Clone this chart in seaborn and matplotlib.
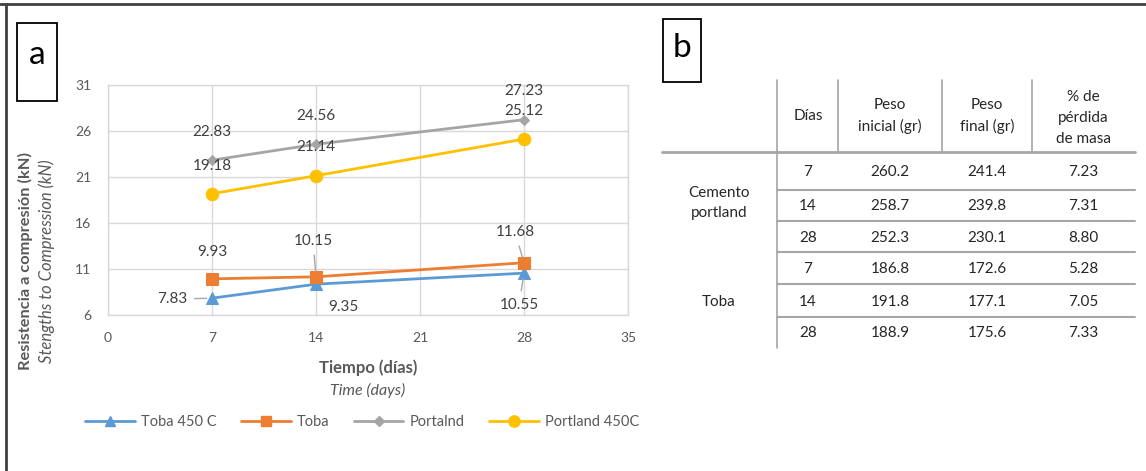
import matplotlib
matplotlib.use("Agg")
import matplotlib.pyplot as plt
import pandas as pd
import seaborn as sns
from matplotlib.lines import Line2D
from matplotlib.patches import Rectangle

# ---- compressive strength data (panel a) ----
dias = [7, 14, 28]
toba_450c = [7.83, 9.35, 10.55]
toba = [9.93, 10.15, 11.68]
portalnd = [22.83, 24.56, 27.23]
portland_450c = [19.18, 21.14, 25.12]
series_names = ["Toba 450 C", "Toba", "Portalnd", "Portland 450C"]
x_ticks = [0, 7, 14, 21, 28, 35]
y_ticks = [6, 11, 16, 21, 26, 31]

# ---- mass loss table (panel b) ----
grupos = ["Cemento\nportland", "Toba"]
tabla_dias = [7, 14, 28, 7, 14, 28]
peso_inicial = [260.2, 258.7, 252.3, 186.8, 191.8, 188.9]
peso_final = [241.4, 239.8, 230.1, 172.6, 177.1, 175.6]
perdida_masa = [7.23, 7.31, 8.80, 5.28, 7.05, 7.33]
encabezados = ["Días", "Peso\ninicial (gr)", "Peso\nfinal (gr)", "% de\npérdida\nde masa"]

sns.set_theme(style="white")
plt.rcParams["font.family"] = ["Lato", "DejaVu Sans"]

W, H, DPI = 1146, 471, 100
fig = plt.figure(figsize=(W / DPI, H / DPI), dpi=DPI)

def px_box(x0, y0, x1, y1):
    return [x0 / W, 1 - y1 / H, (x1 - x0) / W, (y1 - y0) / H]

ax = fig.add_axes(px_box(108, 85, 628, 315))

df = pd.DataFrame({
    "dia": dias * 4,
    "valor": toba_450c + toba + portalnd + portland_450c,
    "serie": [s for s in series_names for _ in dias],
})

colors = {"Toba 450 C": "#5B9BD5", "Toba": "#ED7D31",
          "Portalnd": "#A5A5A5", "Portland 450C": "#FFC000"}
markers = {"Toba 450 C": "^", "Toba": "s", "Portalnd": "D", "Portland 450C": "o"}
msizes = {"Toba 450 C": 8, "Toba": 8, "Portalnd": 5.5, "Portland 450C": 9}

handles = []
for name in series_names:
    sub = df[df["serie"] == name]
    sns.lineplot(data=sub, x="dia", y="valor", ax=ax, color=colors[name],
                 marker=markers[name], markersize=msizes[name],
                 markeredgecolor=colors[name], linewidth=2.0, legend=False)
    handles.append(Line2D([], [], color=colors[name], marker=markers[name],
                          markersize=msizes[name] * 0.9, linewidth=2.0,
                          markeredgecolor=colors[name]))

ax.set_xlim(0, 35)
ax.set_ylim(6, 31)
ax.set_xticks(x_ticks)
ax.set_yticks(y_ticks)
ax.grid(True, color="#D9D9D9", linewidth=1.0)
for sp in ax.spines.values():
    sp.set_color("#D9D9D9")
    sp.set_linewidth(1.0)
ax.tick_params(axis="both", length=0, labelsize=10, labelcolor="#595959")
ax.tick_params(axis="x", pad=12)
ax.tick_params(axis="y", pad=12)

ax.set_xlabel("Tiempo (días)", fontsize=12, fontweight="bold", color="#595959")
ax.xaxis.set_label_coords(0.5, -0.192)
ax.text(0.5, -0.330, "Time (days)", transform=ax.transAxes, ha="center",
        va="center", fontsize=11.5, style="italic", color="#595959")
ax.set_ylabel("Resistencia a compresión (kN)", fontsize=11.8, fontweight="bold",
              color="#595959")
ax.yaxis.set_label_coords(-0.144, 0.235)
ax.text(-0.117, 0.235, "Stengths to Compression (kN)", transform=ax.transAxes,
        rotation=90, ha="center", va="center", fontsize=12, style="italic",
        color="#595959")

# data labels: (series values, offsets in pixels, leader line flags)
lbl_color = "#404040"
label_specs = [
    (portalnd, [(0, 28), (0, 28), (0, 29)], [False, False, False]),
    (portland_450c, [(0, 28), (0, 29), (0, 28)], [False, False, False]),
    (toba, [(0, 27), (-3, 36), (-9, 31)], [False, True, True]),
    (toba_450c, [(-40, -1), (27, -23), (-5, -32)], [True, False, True]),
]
for vals, offs, leaders in label_specs:
    for xd, v, off, lead in zip(dias, vals, offs, leaders):
        arrow = dict(arrowstyle="-", color="#A6A6A6", lw=1.0,
                     shrinkA=3, shrinkB=4) if lead else None
        ax.annotate(f"{v:.2f}", xy=(xd, v), xytext=off,
                    textcoords="offset pixels", ha="center", va="center",
                    fontsize=11, color=lbl_color, arrowprops=arrow)

fig.legend(handles, series_names, loc="center", ncol=4,
           bbox_to_anchor=(362 / W, 1 - 422 / H), frameon=False,
           fontsize=10.5, labelcolor="#595959", handlelength=3.4,
           columnspacing=1.7, handletextpad=0.4, numpoints=1)

# ---- overlay in pixel coordinates: frame, panel tags, table ----
ov = fig.add_axes([0, 0, 1, 1], zorder=-1)
ov.set_xlim(0, W)
ov.set_ylim(H, 0)
ov.axis("off")
ov.plot([0, W], [4, 4], color="#404040", lw=2.0)
ov.plot([6, 6], [4, H], color="#404040", lw=2.0)

ov.add_patch(Rectangle((17, 23), 40, 78, fill=False, ec="black", lw=1.3))
ov.text(37, 55, "a", ha="center", va="center", fontsize=24, color="black")
ov.add_patch(Rectangle((663, 19), 38, 63, fill=False, ec="black", lw=1.3))
ov.text(682, 48, "b", ha="center", va="center", fontsize=24, color="black")

line_c = "#A6A6A6"
col_x = [777, 838, 942, 1032]
col_centers = [808, 890, 987, 1083]
tab_right = 1135
tfs = 11
# header
ov.plot([662, tab_right], [152, 152], color=line_c, lw=2.0)
for cx in col_x:
    ov.plot([cx, cx], [80, 152], color=line_c, lw=1.2)
ov.plot([col_x[0], col_x[0]], [152, 348], color=line_c, lw=1.2)
for txt, cx in zip(encabezados, col_centers):
    ov.text(cx, 116 if txt.count("\n") < 2 else 118, txt, ha="center",
            va="center", fontsize=tfs, color="#262626", linespacing=1.6)

row_y = [172, 206, 238, 269, 302, 333]
for sep in [190, 221, 252, 284, 317]:
    ov.plot([col_x[0], tab_right], [sep, sep], color=line_c, lw=1.5)
for i, ry in enumerate(row_y):
    cells = [str(tabla_dias[i]), f"{peso_inicial[i]:.1f}",
             f"{peso_final[i]:.1f}", f"{perdida_masa[i]:.2f}"]
    for txt, cx in zip(cells, col_centers):
        ov.text(cx, ry, txt, ha="center", va="center", fontsize=tfs,
                color="#262626")
ov.text(719, 203, grupos[0], ha="center", va="center", fontsize=tfs,
        color="#262626", linespacing=1.6)
ov.text(719, 302, grupos[1], ha="center", va="center", fontsize=tfs,
        color="#262626")

fig.savefig("out.png", dpi=DPI, facecolor="white")
